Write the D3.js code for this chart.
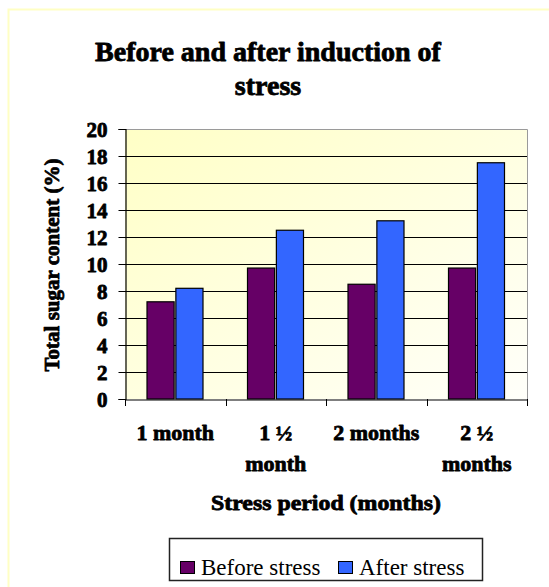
<!DOCTYPE html>
<html>
<head>
<meta charset="utf-8">
<script src="https://cdn.jsdelivr.net/npm/d3@7"></script>
<style>
  html, body { margin: 0; padding: 0; background: #ffffff; }
  svg { display: block; }
</style>
</head>
<body>
<svg id="chart" width="549" height="587"></svg>
<script>
// Data
const categories = ["1 month", "1 \u00BD month", "2 months", "2 \u00BD months"];
const categoryLines = [["1 month"], ["1 \u00BD", "month"], ["2 months"], ["2 \u00BD", "months"]];
const seriesNames = ["Before stress", "After stress"];
const beforeStress = [7.2, 9.7, 8.5, 9.7];
const afterStress = [8.2, 12.5, 13.2, 17.5];
const yTicks = [0, 2, 4, 6, 8, 10, 12, 14, 16, 18, 20];
const seriesColors = ["#660066", "#3366ff"];

const titleLines = ["Before and after induction of", "stress"];
const yTitle = "Total sugar content (%)";
const xTitle = "Stress period (months)";

const SERIF = "'Liberation Serif', 'Times New Roman', Times, serif";

// Heavy serif text style used for titles and axis labels
function heavy(sel, size) {
  sel.style("font-family", SERIF)
    .style("font-weight", "bold")
    .style("font-size", size + "px")
    .style("fill", "#000")
    .style("stroke", "#000")
    .style("stroke-width", "0.8px")
    .style("stroke-linejoin", "round");
  return sel;
}

const svg = d3.select("#chart");

// Outer chart frame
svg.append("rect")
  .attr("x", 8.5).attr("y", 9.5)
  .attr("width", 560).attr("height", 600)
  .attr("fill", "none")
  .attr("stroke", "#ffffc4")
  .attr("stroke-width", 2);

const plot = { left: 125, right: 527, top: 129, bottom: 399 };

const x0 = d3.scaleBand().domain(categories).range([plot.left, plot.right]).paddingInner(0).paddingOuter(0);
const x1 = d3.scaleBand().domain(seriesNames).range([22, 78]).paddingInner(0.06).paddingOuter(0);
const y = d3.scaleLinear().domain([0, 20]).range([plot.bottom, plot.top]);

// Plot background gradient
const defs = svg.append("defs");
const grad = defs.append("linearGradient").attr("id", "plotBg")
  .attr("x1", "0").attr("y1", "0").attr("x2", "1").attr("y2", "1");
grad.append("stop").attr("offset", "0%").attr("stop-color", "#ffffc6");
grad.append("stop").attr("offset", "100%").attr("stop-color", "#fffffa");

svg.append("rect")
  .attr("x", plot.left).attr("y", plot.top)
  .attr("width", plot.right - plot.left).attr("height", plot.bottom - plot.top)
  .attr("fill", "url(#plotBg)");

// Plot border (top and right)
svg.append("path")
  .attr("d", `M${plot.left},${plot.top + 0.5}H${plot.right + 0.5}V${plot.bottom}`)
  .attr("fill", "none").attr("stroke", "#9a9a9a").attr("stroke-width", 1);

// Horizontal gridlines
svg.append("g").selectAll("line")
  .data(yTicks.filter(d => d > 0 && d < 20))
  .join("line")
  .attr("x1", plot.left).attr("x2", plot.right)
  .attr("y1", d => Math.round(y(d)) + 0.5).attr("y2", d => Math.round(y(d)) + 0.5)
  .attr("stroke", "#000").attr("stroke-width", 1);

// Bars
const groups = svg.append("g").selectAll("g")
  .data(categories.map((c, i) => ({ c, vals: [beforeStress[i], afterStress[i]] })))
  .join("g")
  .attr("transform", d => `translate(${x0(d.c)},0)`);

groups.selectAll("rect")
  .data(d => d.vals.map((v, j) => ({ name: seriesNames[j], v, color: seriesColors[j] })))
  .join("rect")
  .attr("x", d => x1(d.name))
  .attr("y", d => y(d.v))
  .attr("width", x1.bandwidth())
  .attr("height", d => y(0) - y(d.v))
  .attr("fill", d => d.color)
  .attr("stroke", "#000")
  .attr("stroke-width", 1.2);

// Y axis
const yAxis = svg.append("g")
  .attr("transform", `translate(${plot.left + 0.5},0)`)
  .call(d3.axisLeft(y).tickValues(yTicks).tickSize(7).tickPadding(11).tickFormat(d3.format("d")));
yAxis.select(".domain").attr("stroke", "#000").attr("stroke-width", 1.2);
yAxis.selectAll(".tick line").attr("stroke", "#000");
heavy(yAxis.selectAll(".tick text"), 21).attr("dy", "0.34em");

// X axis
const xAxis = svg.append("g")
  .attr("transform", `translate(0,${plot.bottom + 0.5})`)
  .call(d3.axisBottom(x0).tickSize(0).tickFormat(""));
xAxis.select(".domain").attr("stroke", "#000").attr("stroke-width", 1.2);
xAxis.selectAll(".tick").remove();

// Tick marks at category boundaries
const boundaries = categories.map(c => x0(c)).concat([plot.right]);
svg.append("g").selectAll("line")
  .data(boundaries)
  .join("line")
  .attr("x1", d => Math.round(d) + 0.5).attr("x2", d => Math.round(d) + 0.5)
  .attr("y1", plot.bottom).attr("y2", plot.bottom + 7)
  .attr("stroke", "#000").attr("stroke-width", 1);

// Category labels
const catLabels = heavy(svg.append("g").selectAll("text")
  .data(categories.map((c, i) => ({ c, lines: categoryLines[i] })))
  .join("text"), 22)
  .attr("text-anchor", "middle")
  .attr("x", d => x0(d.c) + x0.bandwidth() / 2)
  .attr("y", 440);
catLabels.selectAll("tspan")
  .data(d => d.lines.map(l => ({ l, x: x0(d.c) + x0.bandwidth() / 2 })))
  .join("tspan")
  .attr("x", d => d.x)
  .attr("dy", (d, i) => i === 0 ? 0 : 31)
  .text(d => d.l);

// Title
heavy(svg.append("text"), 28)
  .attr("text-anchor", "middle")
  .selectAll("tspan")
  .data(titleLines)
  .join("tspan")
  .attr("x", 268)
  .attr("y", (d, i) => 61 + i * 34)
  .text(d => d);

// Axis titles
heavy(svg.append("text"), 21)
  .attr("text-anchor", "middle")
  .attr("transform", `translate(59,265) rotate(-90)`)
  .text(yTitle);

heavy(svg.append("text"), 21)
  .attr("text-anchor", "middle")
  .attr("x", 326).attr("y", 510)
  .attr("textLength", 230)
  .attr("lengthAdjust", "spacingAndGlyphs")
  .text(xTitle);

// Legend
const legend = svg.append("g");
legend.append("rect")
  .attr("x", 169.5).attr("y", 538.5)
  .attr("width", 313).attr("height", 42)
  .attr("fill", "#fff").attr("stroke", "#222").attr("stroke-width", 1.5);

const legendX = [180, 338];
const legendItems = legend.selectAll("g.item")
  .data(seriesNames.map((n, i) => ({ n, color: seriesColors[i], x: legendX[i] })))
  .join("g").attr("class", "item");
legendItems.append("rect")
  .attr("x", d => d.x + 0.5).attr("y", 561.5)
  .attr("width", 14).attr("height", 12)
  .attr("fill", d => d.color).attr("stroke", "#000").attr("stroke-width", 1);
legendItems.append("text")
  .attr("x", d => d.x + 21).attr("y", 575)
  .style("font-family", SERIF)
  .style("font-size", "23px")
  .style("fill", "#000")
  .text(d => d.n);
</script>
</body>
</html>
